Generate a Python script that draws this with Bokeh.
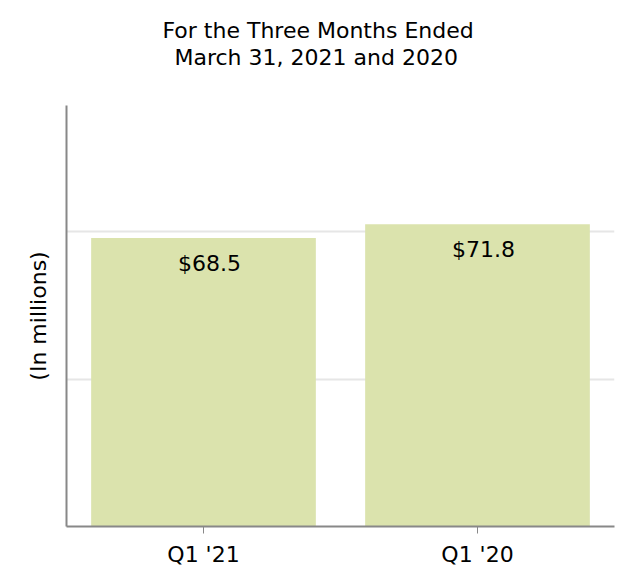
from bokeh.plotting import figure
from bokeh.models import FactorRange, Range1d, FixedTicker, Title, ColumnDataSource
from bokeh.core.properties import value
from bokeh.embed import file_html
from bokeh.resources import INLINE

categories = ["Q1 '21", "Q1 '20"]
values = [68.5, 71.8]
labels = ["$68.5", "$71.8"]
y_grid_ticks = [35, 70]
title_lines = ["For the Three Months Ended", "March 31, 2021 and 2020"]

FONT = "DejaVu Sans"
FS = "22px"
W, H = 634, 586

src = ColumnDataSource(dict(cat=categories, val=values, lab=labels))

p = figure(width=W, height=H, output_backend="svg", toolbar_location=None,
           x_range=FactorRange(*categories, range_padding=0),
           y_range=Range1d(0, 100))
p.min_border_left = 66
p.min_border_right = 20
p.min_border_top = 105
p.min_border_bottom = 60
p.outline_line_color = None

p.vbar(x="cat", top="val", width=0.82, source=src, color="#dbe3ad", line_color=None)
p.text(x="cat", y="val", text="lab", source=src, text_align="center",
       text_baseline="middle", x_offset=6, y_offset=25, text_font=value(FONT),
       text_font_size=FS, text_color="black")

# second title line (closest to the plot), with a blank line below for spacing
t2 = Title(text=title_lines[1] + "\n", align="left", offset=108, text_font=FONT,
           text_font_size=FS, text_font_style="normal", text_color="black",
           text_line_height=1.43, standoff=0)
t1 = Title(text=title_lines[0], align="left", offset=96, text_font=FONT,
           text_font_size=FS, text_font_style="normal", text_color="black",
           text_line_height=0.8, standoff=0)
p.add_layout(t2, "above")
p.add_layout(t1, "above")

p.xgrid.grid_line_color = None
p.ygrid.ticker = FixedTicker(ticks=y_grid_ticks)
p.ygrid.grid_line_color = "#e6e6e6"
p.ygrid.grid_line_width = 2

p.yaxis.ticker = FixedTicker(ticks=[])
p.yaxis.major_tick_line_color = None
p.yaxis.minor_tick_line_color = None
p.yaxis.axis_line_color = "#888888"
p.yaxis.axis_line_width = 2
p.yaxis.axis_label = "(In millions)"
p.yaxis.axis_label_text_font = FONT
p.yaxis.axis_label_text_font_size = FS
p.yaxis.axis_label_text_font_style = "normal"
p.yaxis.axis_label_text_color = "black"
p.yaxis.axis_label_standoff = 16

p.xaxis.axis_line_color = "#888888"
p.xaxis.axis_line_width = 2
p.xaxis.major_tick_line_color = "#888888"
p.xaxis.major_tick_out = 7
p.xaxis.major_tick_in = 0
p.xaxis.major_label_text_font = FONT
p.xaxis.major_label_text_font_size = FS
p.xaxis.major_label_text_color = "black"
p.xaxis.major_label_standoff = 8

open("out.html", "w").write(file_html(p, INLINE))
